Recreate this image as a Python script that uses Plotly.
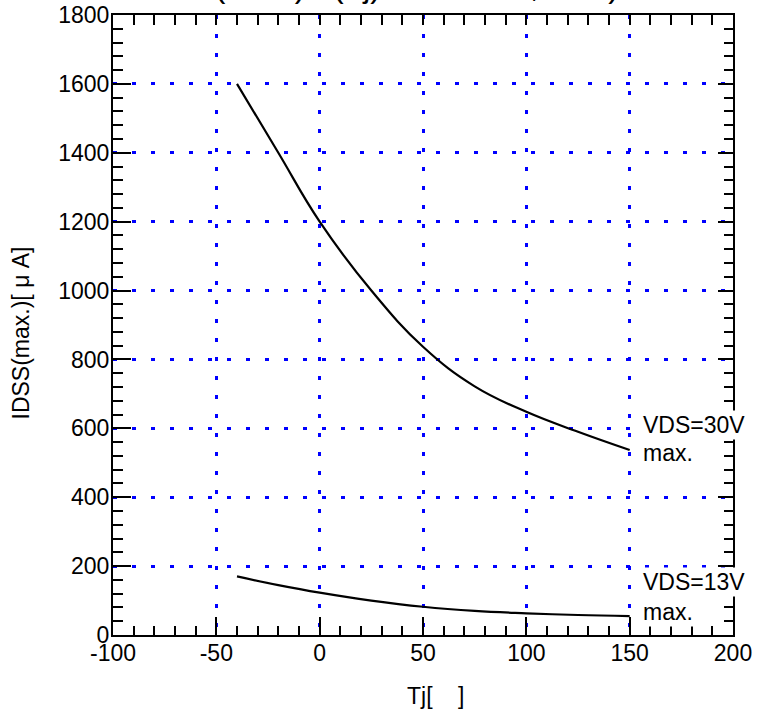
import plotly.graph_objects as go

# Junction temperature samples and maximum zero-gate drain current (uA)
tj = [-40, -20, 0, 25, 50, 75, 100, 125, 150]
idss_30v = [1600, 1400, 1200, 1000, 837, 722, 648, 590, 537]
idss_13v = [170, 145, 123, 100, 82, 70, 63, 58, 55]

x_major = [-100, -50, 0, 50, 100, 150, 200]
x_labels = ["-100", "-50", "0", "50", "100", "150", "200"]
x_grid = [-50, 0, 50, 100, 150]
y_major = [0, 200, 400, 600, 800, 1000, 1200, 1400, 1600, 1800]
y_grid = [200, 400, 600, 800, 1000, 1200, 1400, 1600]

FONT = "Liberation Sans, Arial, sans-serif"
GRID_BLUE = "#0000ff"

fig = go.Figure()
fig.add_trace(go.Scatter(
    x=tj, y=idss_30v, mode="lines", name="VDS=30V",
    line=dict(color="black", width=2.2, shape="spline", smoothing=1.2),
    xaxis="x", yaxis="y", showlegend=False, hoverinfo="x+y",
))
fig.add_trace(go.Scatter(
    x=tj, y=idss_13v, mode="lines", name="VDS=13V",
    line=dict(color="black", width=2.2, shape="spline", smoothing=1.2),
    xaxis="x2", yaxis="y2", showlegend=False, hoverinfo="x+y",
))

tick_font = dict(family=FONT, size=23, color="black")

fig.update_layout(
    width=758, height=713, autosize=False,
    margin=dict(l=113, r=25, t=15, b=78, pad=0),
    paper_bgcolor="white", plot_bgcolor="white",
    font=dict(family=FONT, size=23, color="black"),
    # bottom axis: labelled, long major ticks, short minor ticks
    xaxis=dict(
        range=[-100, 200], tickmode="array", tickvals=x_major, ticktext=x_labels,
        ticks="inside", ticklen=18, tickwidth=1.6, tickcolor="black",
        minor=dict(dtick=10, tick0=-100, ticks="inside", ticklen=9,
                   tickwidth=1.6, tickcolor="black", showgrid=False),
        showline=True, linecolor="black", linewidth=2, mirror=False,
        showgrid=False, zeroline=False, tickfont=tick_font,
        ticklabelstandoff=-4, automargin=False,
    ),
    # left axis: labelled
    yaxis=dict(
        range=[0, 1800], tickmode="array", tickvals=y_major,
        ticks="inside", ticklen=18, tickwidth=1.6, tickcolor="black",
        minor=dict(dtick=40, tick0=0, ticks="inside", ticklen=10,
                   tickwidth=1.6, tickcolor="black", showgrid=False),
        showline=True, linecolor="black", linewidth=2, mirror=False,
        showgrid=False, zeroline=False, tickfont=tick_font,
        ticklabelstandoff=-3, automargin=False,
    ),
    # top axis: uniform short ticks, carries the vertical dotted grid
    xaxis2=dict(
        range=[-100, 200], overlaying="x", side="top", anchor="y2",
        tickmode="array", tickvals=x_grid,
        ticks="inside", ticklen=10, tickwidth=1.6, tickcolor="black",
        minor=dict(dtick=10, tick0=-100, ticks="inside", ticklen=10,
                   tickwidth=1.6, tickcolor="black", showgrid=False),
        showline=True, linecolor="black", linewidth=2,
        showticklabels=False, zeroline=False, automargin=False,
        showgrid=True, gridcolor=GRID_BLUE, gridwidth=2.6, griddash="4px,15px",
    ),
    # right axis: carries the horizontal dotted grid
    yaxis2=dict(
        range=[0, 1800], overlaying="y", side="right", anchor="x2",
        tickmode="array", tickvals=y_grid,
        ticks="inside", ticklen=15, tickwidth=1.6, tickcolor="black",
        minor=dict(dtick=40, tick0=0, ticks="inside", ticklen=9,
                   tickwidth=1.6, tickcolor="black", showgrid=False),
        showline=True, linecolor="black", linewidth=2,
        showticklabels=False, zeroline=False, automargin=False,
        showgrid=True, gridcolor=GRID_BLUE, gridwidth=2.6, griddash="4px,15px",
    ),
)

label_font = dict(family=FONT, size=23, color="black")
annotations = [
    # chart heading, mostly above the page edge
    dict(text="IDSS(max.)=f(Tj) : VGS=0V, max)", xref="paper", yref="paper",
         x=0.04, y=1, xanchor="left", yanchor="bottom", yshift=9,
         showarrow=False, font=dict(family=FONT, size=32, color="black")),
    # axis titles
    dict(text="Tj[\u00a0\u00a0\u00a0\u00a0]", xref="paper", yref="paper",
         x=0.5205, y=-0.0984, xanchor="center", yanchor="middle",
         showarrow=False, font=label_font),
    dict(text="IDSS(max.)[ \u03bc A]", xref="paper", yref="paper",
         x=-0.1477, y=0.487, xanchor="center", yanchor="middle",
         textangle=-90, showarrow=False, font=label_font),
    # curve labels
    dict(text="VDS=30V", xref="x", yref="y", x=155.6, y=610,
         xanchor="left", yanchor="middle", showarrow=False,
         bgcolor="white", font=label_font),
    dict(text="max.", xref="x", yref="y", x=155.6, y=528,
         xanchor="left", yanchor="middle", showarrow=False,
         bgcolor="white", font=label_font),
    dict(text="VDS=13V", xref="x", yref="y", x=155.6, y=155,
         xanchor="left", yanchor="middle", showarrow=False,
         bgcolor="white", font=label_font),
    dict(text="max.", xref="x", yref="y", x=155.6, y=66,
         xanchor="left", yanchor="middle", showarrow=False,
         bgcolor="white", font=label_font),
]
fig.update_layout(annotations=annotations)

fig.write_html("out.html")
